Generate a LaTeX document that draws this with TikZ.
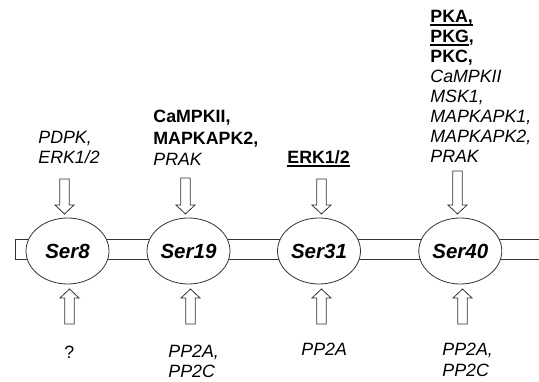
\documentclass[tikz,border=0pt]{standalone}
\usepackage{fontspec}
\setmainfont{Liberation Sans}
\usetikzlibrary{shapes.geometric}

% underline at a fixed depth below the baseline
\newcommand\ulbox[1]{\setbox0\hbox{#1}\rlap{\rule[-2.8pt]{\wd0}{1.3pt}}\box0}

% block arrow pointing down: centre x, top y, tip y
\newcommand\downarrowblk[3]{%
  \draw[blk] (#1-4.75,#2) -- (#1+4.75,#2) -- (#1+4.75,#3-9) -- (#1+9.5,#3-9)
    -- (#1,#3) -- (#1-9.5,#3-9) -- (#1-4.75,#3-9) -- cycle;}
% block arrow pointing up: centre x, bottom y, tip y
\newcommand\uparrowblk[3]{%
  \draw[blk] (#1-4.75,#2) -- (#1+4.75,#2) -- (#1+4.75,#3+9) -- (#1+9.5,#3+9)
    -- (#1,#3) -- (#1-9.5,#3+9) -- (#1-4.75,#3+9) -- cycle;}

\begin{document}
\begin{tikzpicture}[x=1pt,y=-1pt,
  line width=0.8pt,
  blk/.style={draw=black!80, fill=white, line join=miter},
  site/.style={ellipse, draw=black!80, fill=white, minimum width=83pt,
    minimum height=66pt, inner sep=0pt,
    font=\fontsize{20.5}{22}\selectfont\bfseries\itshape},
  lbl/.style={anchor=base west, inner sep=0pt, font=\fontsize{17.8}{20}\selectfont},
  bd/.style={lbl, font=\fontsize{17.8}{20}\selectfont\bfseries},
  it/.style={lbl, font=\fontsize{17.8}{20}\selectfont\itshape}]
\useasboundingbox (0,0) rectangle (539,382);

% the backbone strip
\draw[black!80] (539,239) -- (15,239) -- (15,259) -- (539,259);

% phosphorylation sites
\node[site] (s8)  at (67.5,251) {Ser8};
\node[site] (s19) at (188.5,251) {Ser19};
\node[site] (s31) at (319,251) {Ser31};
\node[site] (s40) at (460.3,251) {Ser40};

% kinase arrows (down) and phosphatase arrows (up)
\downarrowblk{64.5}{179}{214}
\downarrowblk{185.5}{178}{214}
\downarrowblk{321.5}{179}{214}
\downarrowblk{457.5}{171}{214}
\uparrowblk{69.5}{324}{289}
\uparrowblk{190.5}{324}{289}
\uparrowblk{321.5}{324}{289}
\uparrowblk{462.5}{324}{289}

% kinases for Ser8
\node[it] (k8a) at (38,144) {PDPK,};
\node[it] (k8b) at (38,164) {ERK1/2};

% kinases for Ser19
\node[bd] (k19a) at (153,123) {CaMPKII,};
\node[bd] (k19b) at (153,145) {MAPKAPK2,};
\node[it] (k19c) at (153,166) {PRAK};

% kinase for Ser31
\node[bd] (k31a) at (287,164) {\ulbox{ERK1/2}};

% kinases for Ser40
\node[bd] (k40a) at (430,23)  {\ulbox{PKA,}};
\node[bd] (k40b) at (430,43)  {\ulbox{PKG},};
\node[bd] (k40c) at (430,63)  {PKC,};
\node[it] (k40d) at (430,83)  {CaMPKII};
\node[it] (k40e) at (430,103) {MSK1,};
\node[it] (k40f) at (430,123) {MAPKAPK1,};
\node[it] (k40g) at (430,143) {MAPKAPK2,};
\node[it] (k40h) at (430,163) {PRAK};

% phosphatases
\node[lbl] (p8)   at (64,359) {?};
\node[it]  (p19a) at (168,358) {PP2A,};
\node[it]  (p19b) at (168,378) {PP2C};
\node[it]  (p31)  at (301,356) {PP2A};
\node[it]  (p40a) at (442,356) {PP2A,};
\node[it]  (p40b) at (442,377) {PP2C};
\end{tikzpicture}
\end{document}
